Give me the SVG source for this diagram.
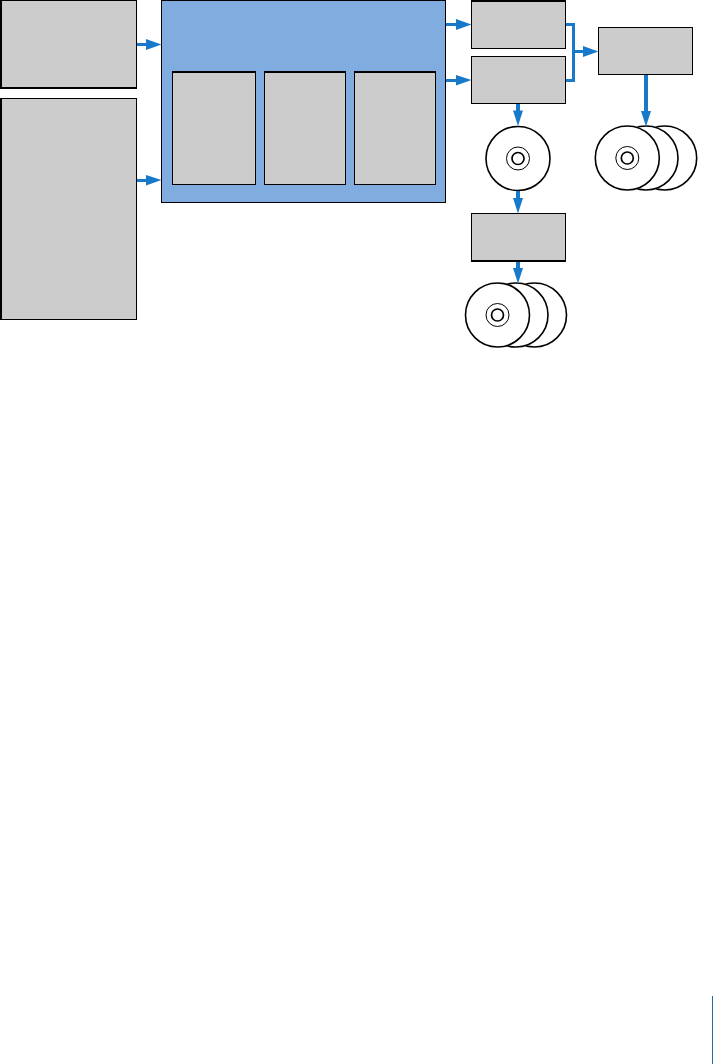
<svg xmlns="http://www.w3.org/2000/svg" width="713" height="1064" viewBox="0 0 713 1064">
<style>
.box{fill:#ccc;stroke:#000;stroke-width:1}
.panel{fill:#80acdf;stroke:#000;stroke-width:1}
.edge{fill:none;stroke:#000;stroke-width:2}
.c{fill:none;stroke:#1878ca;stroke-width:3}
.v{stroke-width:4}
.ch{fill:#1878ca}
.disc{fill:#fff;stroke:#000;stroke-width:1.6}
.ring{fill:none;stroke:#000;stroke-width:1}
.hole{fill:#fff;stroke:#000;stroke-width:1.7}
</style>
<defs>
<g id="disc"><circle class="disc" cx="0" cy="0" r="32"/><circle class="ring" cx="0" cy="0" r="11.500"/><circle class="hole" cx="0" cy="0" r="6"/></g>
</defs>
<g id="input-top"><rect class="box" x="1.500" y="0.500" width="135" height="87.500"/><path class="edge" d="M1 0V89M0 88H137"/></g>
<g id="input-bottom"><rect class="box" x="1.500" y="98.500" width="135" height="221"/><path class="edge" d="M1 98V320"/></g>
<g id="panel"><rect class="panel" x="161.500" y="0.500" width="284" height="202"/></g>
<g id="inner-1"><rect class="box" x="172.500" y="71.500" width="83" height="113"/><path class="edge" d="M172 72H256"/></g>
<g id="inner-2"><rect class="box" x="264.500" y="71.500" width="81" height="113"/><path class="edge" d="M264 72H346"/></g>
<g id="inner-3"><rect class="box" x="354.500" y="71.500" width="81" height="113"/><path class="edge" d="M354 72H436"/></g>
<g id="box-a"><rect class="box" x="471.500" y="0.500" width="94" height="48"/><path class="edge" d="M471 1H566"/></g>
<g id="box-b"><rect class="box" x="471.500" y="56.500" width="94" height="47"/></g>
<g id="box-c"><rect class="box" x="598.500" y="27.500" width="94" height="47"/></g>
<g id="box-d"><rect class="box" x="471.500" y="213.500" width="94" height="47.500"/><path class="edge" d="M471 261H566"/></g>
<g id="disc-single"><use href="#disc" x="518" y="158.500"/></g>
<g id="disc-stack-right"><use href="#disc" x="664.700" y="158"/><use href="#disc" x="646" y="158"/><use href="#disc" x="627.300" y="158"/></g>
<g id="disc-stack-bottom"><use href="#disc" x="534.500" y="315"/><use href="#disc" x="516" y="315"/><use href="#disc" x="497.500" y="315"/></g>
<g id="connectors">
<path class="c" d="M137 44.500H150"/><path class="ch" d="M146 39L161.500 44.500L146 50Z"/>
<path class="c" d="M137 180.500H150"/><path class="ch" d="M146 175L161.500 180L146 185.500Z"/>
<path class="c" d="M446 24.500H460"/><path class="ch" d="M456 19L471.500 24.500L456 30Z"/>
<path class="c" d="M446 80.500H460"/><path class="ch" d="M456 75L471.500 80L456 85.500Z"/>
<path class="c" d="M566 24.500H573.500V80.500H566"/>
<path class="c" d="M573.500 51.500H588"/><path class="ch" d="M583 46L598.500 51.500L583 57Z"/>
<path class="c v" d="M646 75V115"/><path class="ch" d="M641 111H651L646 126.500Z"/>
<path class="c v" d="M518 104V114"/><path class="ch" d="M513 110.500H523L518 126Z"/>
<path class="c v" d="M518 191V202"/><path class="ch" d="M513 198H523L518 213.500Z"/>
<path class="c v" d="M518 262V273"/><path class="ch" d="M513 268H523L518 283.500Z"/>
</g>
<g id="page-rule"><rect x="712" y="996" width="1" height="68" fill="#2a6aa0"/></g>
</svg>
